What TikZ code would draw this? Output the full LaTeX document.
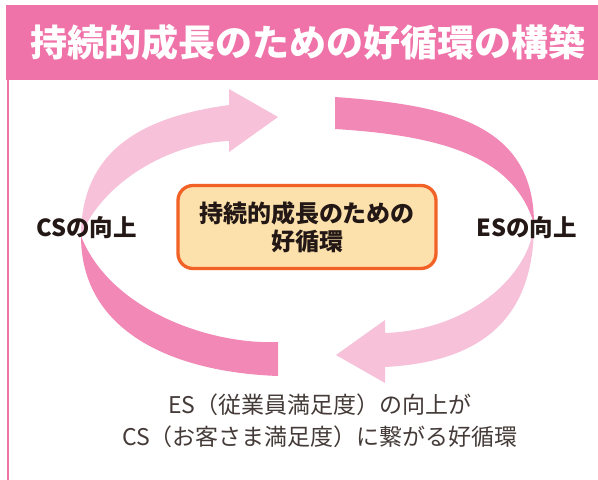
\documentclass[tikz,border=0pt]{standalone}
\usepackage{fontspec}
\setmainfont{Noto Sans CJK JP}
\definecolor{ringlight}{RGB}{246,193,217}
\definecolor{ringdark}{RGB}{241,136,182}
\definecolor{barpink}{RGB}{239,114,168}
\definecolor{coreline}{RGB}{242,97,37}
\definecolor{corefill}{RGB}{253,225,172}
\definecolor{inkgray}{RGB}{35,24,21}
\usetikzlibrary{positioning}

\begin{document}
\begin{tikzpicture}[x=1pt, y=-1pt,
  lightband/.style={fill=ringlight},
  darkband/.style={fill=ringdark},
  sidetext/.style={font=\bfseries\fontsize{23.5}{26}\selectfont, text=inkgray, inner sep=0pt},
  corebox/.style={draw=coreline, fill=corefill, line width=3.3pt, rounded corners=15pt,
    minimum width=258pt, minimum height=83pt, align=center, text=inkgray,
    font=\bfseries\fontsize{24}{28}\selectfont}]
  \fill[white] (0,0) rectangle (598,480);
  \useasboundingbox (0,0) rectangle (598,480);

  % title bar and left rule
  \fill[barpink] (6,5) rectangle (598,80);
  \draw[barpink, line width=1.6pt] (7.8,80) -- (7.8,480);
  \node[text=white, font=\bfseries\fontsize{37}{40}\selectfont, inner sep=0pt] (title) at (308,42) {持続的成長のための好循環の構築};

  % the twisted ring
  \fill[lightband] (81,236) .. controls (81,146) and (149,116) .. (229,105) -- (229,89) -- (278,117) -- (229,152) -- (229,141) .. controls (170,143) and (102,182) .. (81,236) -- cycle;
  \fill[darkband] (335,97) .. controls (450,105) and (534,125) .. (534,224) .. controls (515,160) and (450,136) .. (335,129) -- cycle;
  \fill[darkband] (81,236) .. controls (81,330) and (170,372) .. (278,376) -- (278,342) .. controls (210,345) and (110,310) .. (81,236) -- cycle;
  \fill[lightband] (385,367) .. controls (480,362) and (534,320) .. (534,224) .. controls (530,275) and (470,330) .. (385,333) -- (385,320) -- (336,355) -- (385,383) -- cycle;

  \node[corebox] (core) at (307,227) {持続的成長のための\\好循環};
  \node[sidetext] (cs) at (86.5,228) {CSの向上};
  \node[sidetext] (es) at (526.5,228) {ESの向上};
  \node[align=center, text=inkgray!85, font=\fontsize{23}{32}\selectfont, inner sep=0pt] (caption) at (320,421)
    {ES（従業員満足度）の向上が\\CS（お客さま満足度）に繋がる好循環};
\end{tikzpicture}
\end{document}
